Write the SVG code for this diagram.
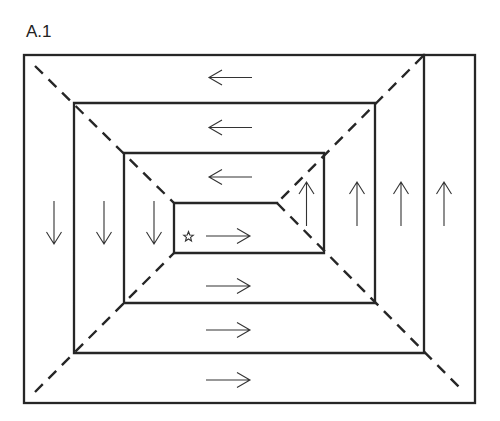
<svg xmlns="http://www.w3.org/2000/svg" width="500" height="421" viewBox="0 0 500 421">
<style>
.wall{fill:none;stroke:#262626;stroke-width:2.3;stroke-linecap:square;stroke-linejoin:miter}
.dash{fill:none;stroke:#262626;stroke-width:2.4;stroke-dasharray:11 8}
.arr{fill:none;stroke:#333;stroke-width:1.1}
.title{font-family:"Liberation Sans",Arial,sans-serif;font-size:17px;fill:#222}
</style>
<rect width="500" height="421" fill="#fff"/>
<text class="title" x="26" y="36.5">A.1</text>
<g id="outline">
<rect class="wall" x="24" y="55" width="451" height="348"/>
<path class="wall" d="M277,203 H174 V253 H324 V153 H124 V303 H375 V103 H74 V353 H424 V55"/>
</g>
<g id="connectors">
<line class="dash" x1="35" y1="66" x2="174" y2="203"/>
<line class="dash" x1="35" y1="392" x2="174" y2="253"/>
<line class="dash" x1="423" y1="56" x2="277" y2="203"/>
<line class="dash" x1="277" y1="203" x2="464" y2="392"/>
</g>
<g id="arrows-left">
<path class="arr" d="M252,77.5 H209 M222,70 L209,77.5 L222,85"/>
<path class="arr" d="M252,127.5 H209 M222,120 L209,127.5 L222,135"/>
<path class="arr" d="M252,177 H209 M222,169.5 L209,177 L222,184.5"/>
</g>
<g id="arrows-right">
<path class="arr" d="M206,236 H250 M237,228.5 L250,236 L237,243.5"/>
<path class="arr" d="M206,286 H250 M237,278.5 L250,286 L237,293.5"/>
<path class="arr" d="M206,330 H250 M237,322.5 L250,330 L237,337.5"/>
<path class="arr" d="M206,380 H250 M237,372.5 L250,380 L237,387.5"/>
</g>
<g id="arrows-down">
<path class="arr" d="M54,201 V244 M46.5,232 L54,244 L61.5,232"/>
<path class="arr" d="M104,201 V244 M96.5,232 L104,244 L111.5,232"/>
<path class="arr" d="M154,201 V244 M146.5,232 L154,244 L161.5,232"/>
</g>
<g id="arrows-up">
<path class="arr" d="M306.5,226 V182 M299,194 L306.5,182 L314,194"/>
<path class="arr" d="M357,226 V182 M349.5,194 L357,182 L364.5,194"/>
<path class="arr" d="M401,226 V182 M393.5,194 L401,182 L408.5,194"/>
<path class="arr" d="M444,226 V182 M436.5,194 L444,182 L451.5,194"/>
</g>
<g id="start">
<polygon class="arr" points="188.5,231.5 189.8,235 193.3,235.2 190.6,237.4 191.5,241 188.5,239 185.5,241 186.4,237.4 183.7,235.2 187.2,235"/>
</g>
</svg>
